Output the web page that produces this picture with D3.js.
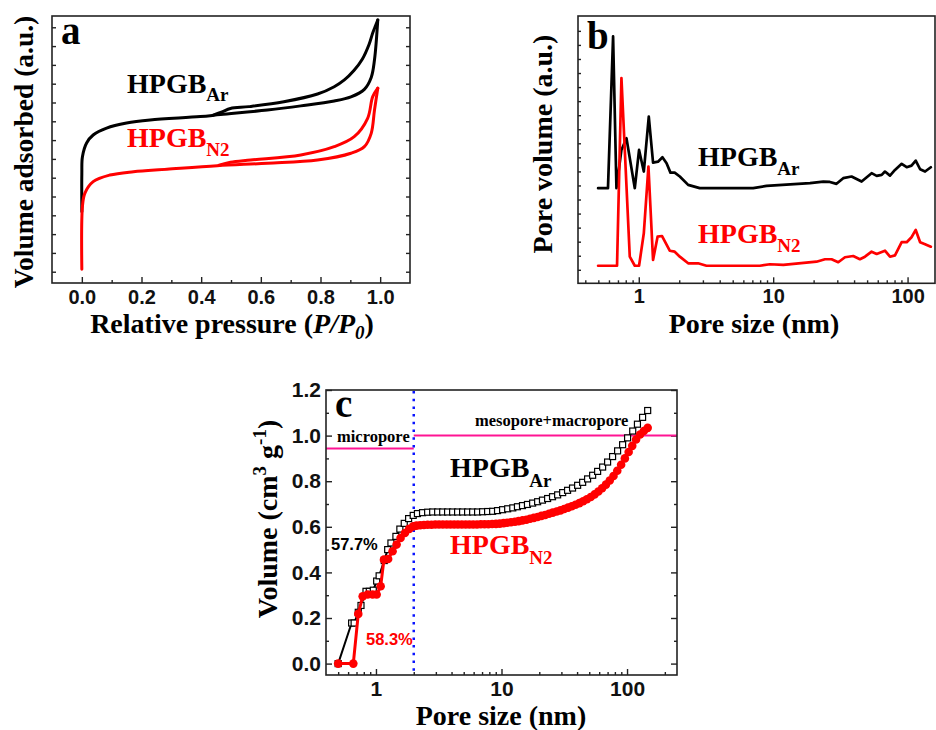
<!DOCTYPE html>
<html>
<head>
<meta charset="utf-8">
<script src="https://cdn.jsdelivr.net/npm/d3@7"></script>
<style>
body { margin: 0; background: #fff; }
</style>
</head>
<body>
<svg id="fig" width="936" height="730"></svg>
<script>
// ---- panel a: isotherms (relative pressure, volume a.u.) ----
var aArAdsP = [0.0, 0.0, 0.002, 0.016, 0.038, 0.083, 0.15, 0.229, 0.397, 0.465, 0.622, 0.734, 0.846, 0.902, 0.947, 0.97, 0.981, 0.992];
var aArAdsV = [3.19, 5.2, 6.12, 6.85, 7.27, 7.64, 7.91, 8.07, 8.25, 8.36, 8.6, 8.82, 9.08, 9.3, 9.7, 10.33, 11.27, 13.39];
var aArDesP = [0.992, 0.985, 0.975, 0.963, 0.94, 0.912, 0.88, 0.846, 0.79, 0.677, 0.56, 0.498, 0.47, 0.44];
var aArDesV = [13.39, 13.1, 12.7, 12.1, 11.3, 10.7, 10.2, 9.84, 9.45, 9.04, 8.78, 8.68, 8.5, 8.33];
var aN2AdsP = [0.0, 0.002, 0.01, 0.038, 0.094, 0.173, 0.285, 0.454, 0.622, 0.79, 0.902, 0.947, 0.97, 0.981, 0.992];
var aN2AdsV = [0.13, 3.46, 4.17, 4.79, 5.14, 5.32, 5.45, 5.64, 5.77, 5.94, 6.3, 6.65, 7.36, 8.6, 9.76];
var aN2DesP = [0.992, 0.975, 0.958, 0.913, 0.846, 0.734, 0.566, 0.498, 0.46];
var aN2DesV = [9.76, 9.31, 8.16, 7.18, 6.65, 6.21, 5.94, 5.82, 5.66];
var aTicks = [0.0, 0.2, 0.4, 0.6, 0.8, 1.0];
var aMinor = [0.1, 0.3, 0.5, 0.7, 0.9];

// ---- panel b: pore size distribution (nm, a.u.) ----
var bArD = [0.498, 0.59, 0.644, 0.682, 0.743, 0.81, 0.934, 1.005, 1.09, 1.187, 1.277, 1.39, 1.5, 1.61, 1.72, 1.85, 2.02, 2.33, 2.84, 7.1, 8.93, 18.8, 23.6, 26.4, 29.6, 33.2, 38.3, 45.5, 54, 58.9, 64.2, 67.9, 74, 80.6, 90.4, 98.5, 107, 115, 124, 135, 149];
var bArV = [7.04, 7.04, 18.27, 7.04, 9.87, 10.74, 7.04, 9.87, 8.27, 12.34, 8.93, 9.0, 9.33, 8.89, 8.19, 8.19, 7.9, 7.28, 7.04, 7.04, 7.21, 7.41, 7.53, 7.5, 7.36, 7.78, 7.9, 7.53, 8.15, 7.95, 8.02, 8.27, 7.97, 8.39, 8.84, 8.59, 8.71, 9.08, 8.44, 8.27, 8.59];
var bN2D = [0.498, 0.689, 0.743, 0.857, 0.934, 1.005, 1.09, 1.18, 1.277, 1.38, 1.49, 1.7, 1.85, 2.02, 2.33, 2.76, 3.19, 7.96, 9.45, 11.9, 21, 24.3, 27.2, 30.5, 34.2, 39.4, 44.2, 48.2, 54, 58.9, 67.9, 74, 80.6, 90.4, 98.5, 107, 115, 124, 135, 149];
var bN2V = [1.3, 1.3, 15.19, 1.97, 1.3, 1.3, 3.7, 8.64, 1.73, 3.45, 3.5, 2.41, 2.34, 1.97, 1.48, 1.48, 1.3, 1.3, 1.41, 1.36, 1.6, 1.78, 1.78, 1.56, 1.93, 2.02, 1.78, 1.97, 2.34, 2.17, 2.41, 1.97, 2.07, 3.04, 3.04, 3.41, 3.95, 3.04, 2.89, 2.71];
var logTicks = [1, 10, 100];
var logMinor = [0.4, 0.5, 0.6, 0.7, 0.8, 0.9, 2, 3, 4, 5, 6, 7, 8, 9, 20, 30, 40, 50, 60, 70, 80, 90, 200];

// ---- panel c: cumulative pore volume (nm, cm3/g) ----
var cArD = [0.5, 0.64, 0.67, 0.723, 0.76, 0.833, 0.885, 0.952, 1.013, 1.06, 1.164, 1.24, 1.316, 1.442, 1.55, 1.68, 1.82, 1.98, 2.14, 2.35, 2.58, 2.83, 3.1, 3.4, 3.72, 4.08, 4.47, 4.9, 5.37, 5.89, 6.45, 7.07, 7.75, 8.5, 9.3, 10.2, 11.2, 12.3, 13.4, 14.7, 16.1, 17.7, 19.4, 21.2, 23.3, 25.5, 28, 30.7, 33.6, 36.8, 40.4, 44.3, 48.5, 53.2, 58.3, 63.9, 70, 76.7, 84.1, 92.2, 101, 111, 121, 133, 146];
var cArV = [0, 0.178, 0.178, 0.225, 0.255, 0.317, 0.317, 0.322, 0.362, 0.385, 0.452, 0.5, 0.529, 0.558, 0.59, 0.615, 0.636, 0.65, 0.658, 0.662, 0.664, 0.665, 0.665, 0.665, 0.665, 0.665, 0.665, 0.665, 0.665, 0.665, 0.665, 0.666, 0.667, 0.668, 0.671, 0.675, 0.679, 0.683, 0.688, 0.693, 0.698, 0.704, 0.71, 0.717, 0.724, 0.732, 0.74, 0.75, 0.76, 0.77, 0.782, 0.795, 0.81, 0.826, 0.843, 0.862, 0.884, 0.908, 0.933, 0.96, 0.99, 1.02, 1.05, 1.08, 1.11];
var cN2D = [0.5, 0.66, 0.723, 0.784, 0.859, 0.94, 1.013, 1.09, 1.158, 1.25, 1.356, 1.46, 1.57, 1.7, 1.84, 1.98, 2.1, 2.25, 2.41, 2.58, 2.77, 2.97, 3.18, 3.41, 3.66, 3.92, 4.2, 4.5, 4.83, 5.18, 5.55, 5.95, 6.38, 6.84, 7.33, 7.86, 8.43, 9.04, 9.69, 10.4, 11.1, 11.9, 12.8, 13.7, 14.7, 15.8, 16.9, 18.1, 19.4, 20.8, 22.3, 23.9, 25.6, 27.5, 29.5, 31.6, 33.9, 36.3, 38.9, 41.7, 44.7, 47.9, 51.4, 55.1, 59.1, 63.3, 67.9, 72.8, 78, 83.6, 89.7, 96.1, 103, 110, 118, 127, 136, 146];
var cN2V = [0, 0, 0.218, 0.295, 0.303, 0.303, 0.303, 0.339, 0.456, 0.459, 0.493, 0.522, 0.551, 0.573, 0.591, 0.602, 0.605, 0.607, 0.608, 0.609, 0.609, 0.61, 0.61, 0.61, 0.61, 0.61, 0.61, 0.61, 0.61, 0.61, 0.61, 0.61, 0.61, 0.611, 0.611, 0.611, 0.612, 0.613, 0.614, 0.616, 0.618, 0.62, 0.622, 0.625, 0.628, 0.631, 0.635, 0.639, 0.643, 0.648, 0.652, 0.657, 0.662, 0.667, 0.672, 0.678, 0.684, 0.69, 0.697, 0.704, 0.712, 0.721, 0.731, 0.742, 0.755, 0.769, 0.785, 0.803, 0.823, 0.846, 0.872, 0.9, 0.928, 0.955, 0.983, 1.005, 1.02, 1.034];
var cTicks = [0.0, 0.2, 0.4, 0.6, 0.8, 1.0, 1.2];
var cMinor = [0.1, 0.3, 0.5, 0.7, 0.9, 1.1];
var microLevel = 0.943, mesoLevel = 1.0, microLimit = 2;

var serif = "'Liberation Serif', 'Times New Roman', serif";
var sans = "'Liberation Sans', Arial, sans-serif";
var svg = d3.select("#fig");

function addAxis(gen, tx, ty, fs) {
    var g = svg.append("g").attr("transform", "translate(" + tx + "," + ty + ")").call(gen);
    g.select(".domain").remove();
    g.selectAll("line").attr("stroke", "#222").attr("stroke-width", 1.4);
    g.selectAll("text").attr("font-family", sans).attr("font-size", fs || 20)
        .attr("font-weight", "bold").attr("fill", "#111");
    return g;
}

function box(x0, y0, x1, y1) {
    svg.append("rect").attr("x", x0).attr("y", y0)
        .attr("width", x1 - x0).attr("height", y1 - y0)
        .attr("fill", "none").attr("stroke", "#222").attr("stroke-width", 1.6);
}

function sample(x, y, main, sub, color, fs, subFs, subDy) {
    var t = svg.append("text").attr("x", x).attr("y", y)
        .attr("font-family", serif).attr("font-weight", "bold")
        .attr("font-size", fs).attr("fill", color);
    t.append("tspan").text(main);
    t.append("tspan").attr("font-size", subFs).attr("dy", subDy).text(sub);
}

function plain(x, y, s, fam, fs, color, anchor) {
    return svg.append("text").attr("x", x).attr("y", y).text(s)
        .attr("font-family", fam).attr("font-weight", "bold")
        .attr("font-size", fs).attr("fill", color).attr("text-anchor", anchor || "start");
}

function curve(xs, ys, x, y, color, w, smooth) {
    var line = d3.line().x(function(d) { return x(d[0]); }).y(function(d) { return y(d[1]); });
    if (smooth) line.curve(d3.curveCatmullRom.alpha(0.5));
    svg.append("path").datum(d3.zip(xs, ys)).attr("d", line)
        .attr("fill", "none").attr("stroke", color).attr("stroke-width", w)
        .attr("stroke-linejoin", "round").attr("stroke-linecap", "round");
}

// =============== panel a ===============
var xA = d3.scaleLinear().domain([-0.1, 1.1]).range([52, 410]);
var yA = d3.scaleLinear().domain([-0.6, 13.6]).range([283, 16]);

addAxis(d3.axisBottom(xA).tickValues(aTicks).tickFormat(d3.format(".1f"))
    .tickSizeInner(-6).tickSizeOuter(0).tickPadding(7), 0, 283);
addAxis(d3.axisBottom(xA).tickValues(aMinor).tickFormat("").tickSizeInner(-3).tickSizeOuter(0), 0, 283);
addAxis(d3.axisLeft(yA).tickValues(d3.range(0, 14)).tickFormat("")
    .tickSize(-4).tickSizeOuter(0), 52, 0);
addAxis(d3.axisRight(yA).tickValues(d3.range(0, 14)).tickFormat("")
    .tickSize(-4).tickSizeOuter(0), 410, 0);

curve(aArAdsP, aArAdsV, xA, yA, "#000", 3, true);
curve(aArDesP, aArDesV, xA, yA, "#000", 3, true);
curve(aN2AdsP, aN2AdsV, xA, yA, "#ff0000", 3, true);
curve(aN2DesP, aN2DesV, xA, yA, "#ff0000", 3, true);
box(52, 16, 410, 283);

plain(61, 44, "a", serif, 39, "#000");
sample(127, 93, "HPGB", "Ar", "#000", 28, 19, 8);
sample(127, 147, "HPGB", "N2", "#ff0000", 28, 19, 9);

svg.append("text").attr("transform", "translate(33,152) rotate(-90)")
    .attr("text-anchor", "middle").attr("font-family", serif).attr("font-weight", "bold")
    .attr("font-size", 27.5).attr("fill", "#000").text("Volume adsorbed (a.u.)");

var xa = svg.append("text").attr("x", 232).attr("y", 333).attr("text-anchor", "middle")
    .attr("font-family", serif).attr("font-weight", "bold").attr("font-size", 28).attr("fill", "#000");
xa.append("tspan").text("Relative pressure (");
xa.append("tspan").attr("font-style", "italic").text("P/P");
xa.append("tspan").attr("font-style", "italic").attr("font-size", 19).attr("dy", 6).text("0");
xa.append("tspan").attr("dy", -6).text(")");

// =============== panel b ===============
var xB = d3.scaleLog().domain([0.353, 160]).range([578, 935]);
var yB = d3.scaleLinear().domain([0, 19.78]).range([283.3, 16]);

addAxis(d3.axisBottom(xB).tickValues(logTicks).tickFormat(d3.format("d"))
    .tickSizeInner(-6).tickSizeOuter(0).tickPadding(6), 0, 283.3);
addAxis(d3.axisBottom(xB).tickValues(logMinor.filter(function(v) { return v < 160; }))
    .tickFormat("").tickSizeInner(-3).tickSizeOuter(0), 0, 283.3);
addAxis(d3.axisLeft(yB).tickValues(d3.range(1, 19.7, 1.04)).tickFormat("")
    .tickSize(-3).tickSizeOuter(0), 578, 0);

curve(bArD, bArV, xB, yB, "#000", 2.7, false);
curve(bN2D, bN2V, xB, yB, "#ff0000", 2.7, false);
box(578, 16, 935, 283.3);

plain(587, 49, "b", serif, 39, "#000");
sample(698, 166, "HPGB", "Ar", "#000", 28, 19, 9);
sample(698, 243, "HPGB", "N2", "#ff0000", 28, 19, 9);

svg.append("text").attr("transform", "translate(552,144) rotate(-90)")
    .attr("text-anchor", "middle").attr("font-family", serif).attr("font-weight", "bold")
    .attr("font-size", 28).attr("fill", "#000").text("Pore volume (a.u.)");
plain(754, 333, "Pore size (nm)", serif, 28, "#000", "middle");

// =============== panel c ===============
var xC = d3.scaleLog().domain([0.4, 250]).range([326, 677]);
var yC = d3.scaleLinear().domain([-0.05, 1.2]).range([675, 390]);

addAxis(d3.axisBottom(xC).tickValues(logTicks).tickFormat(d3.format("d"))
    .tickSizeInner(-6).tickSizeOuter(0).tickPadding(6), 0, 675, 21);
addAxis(d3.axisBottom(xC).tickValues(logMinor.filter(function(v) { return v > 0.4 && v < 250; }))
    .tickFormat("").tickSizeInner(-3).tickSizeOuter(0), 0, 675);
addAxis(d3.axisLeft(yC).tickValues(cTicks).tickFormat(d3.format(".1f"))
    .tickSizeInner(-6).tickSizeOuter(0).tickPadding(5), 326, 0, 21);
addAxis(d3.axisLeft(yC).tickValues(cMinor).tickFormat("").tickSizeInner(-3).tickSizeOuter(0), 326, 0);
addAxis(d3.axisRight(yC).tickValues(cTicks).tickFormat("").tickSizeInner(-6).tickSizeOuter(0), 677, 0);
addAxis(d3.axisRight(yC).tickValues(cMinor).tickFormat("").tickSizeInner(-3).tickSizeOuter(0), 677, 0);

// pore-type boundaries
svg.append("line").attr("x1", 326).attr("x2", xC(microLimit))
    .attr("y1", yC(microLevel)).attr("y2", yC(microLevel))
    .attr("stroke", "#ff1493").attr("stroke-width", 2);
svg.append("line").attr("x1", xC(microLimit)).attr("x2", 677)
    .attr("y1", yC(mesoLevel)).attr("y2", yC(mesoLevel))
    .attr("stroke", "#ff1493").attr("stroke-width", 2);
svg.append("line").attr("x1", xC(microLimit)).attr("x2", xC(microLimit))
    .attr("y1", 391).attr("y2", 675)
    .attr("stroke", "#0a14ff").attr("stroke-width", 2.5).attr("stroke-dasharray", "2.5,5.2");

curve(cArD, cArV, xC, yC, "#000", 2, false);
svg.append("g").selectAll("rect").data(d3.zip(cArD, cArV)).enter().append("rect")
    .attr("x", function(d) { return xC(d[0]) - 3; })
    .attr("y", function(d) { return yC(d[1]) - 3; })
    .attr("width", 6).attr("height", 6)
    .attr("fill", "#fff").attr("stroke", "#000").attr("stroke-width", 1.2);

curve(cN2D, cN2V, xC, yC, "#ff0000", 3, false);
svg.append("g").selectAll("circle").data(d3.zip(cN2D, cN2V)).enter().append("circle")
    .attr("cx", function(d) { return xC(d[0]); })
    .attr("cy", function(d) { return yC(d[1]); })
    .attr("r", 4.3).attr("fill", "#ff0000");

box(326, 390, 677, 675);

plain(335, 417, "c", serif, 39, "#000");
plain(337, 442, "micropore", serif, 16.5, "#000");
plain(475, 426, "mesopore+macropore", serif, 16.5, "#000");
sample(450, 477, "HPGB", "Ar", "#000", 28, 19, 10);
sample(450, 554, "HPGB", "N2", "#ff0000", 28, 19, 10);
plain(331, 550, "57.7%", sans, 16.5, "#000");
plain(366, 645, "58.3%", sans, 16.5, "#ff0000");

var yc = svg.append("text").attr("transform", "translate(277,519) rotate(-90)")
    .attr("text-anchor", "middle").attr("font-family", serif).attr("font-weight", "bold")
    .attr("font-size", 28).attr("fill", "#000");
yc.append("tspan").text("Volume (cm");
yc.append("tspan").attr("font-size", 19).attr("dy", -11).text("3");
yc.append("tspan").attr("dy", 11).text(" g");
yc.append("tspan").attr("font-size", 19).attr("dy", -11).text("-1");
yc.append("tspan").attr("dy", 11).text(")");
plain(501, 725, "Pore size (nm)", serif, 28, "#000", "middle");
</script>
</body>
</html>
